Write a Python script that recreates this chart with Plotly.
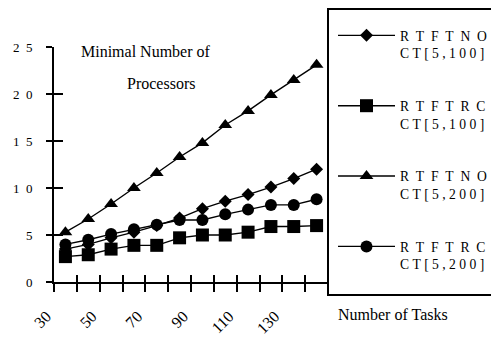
import plotly.graph_objects as go

# ---- data ----
tasks = [30, 40, 50, 60, 70, 80, 90, 100, 110, 120, 130, 140]
rtftno_100 = [3.5, 4.0, 4.7, 5.3, 6.0, 6.8, 7.8, 8.6, 9.3, 10.1, 11.0, 12.0]
rtftrc_100 = [2.7, 2.9, 3.5, 3.9, 3.9, 4.7, 5.0, 5.0, 5.3, 5.9, 5.9, 6.0]
rtftno_200 = [5.3, 6.7, 8.3, 10.0, 11.6, 13.3, 14.8, 16.7, 18.2, 19.9, 21.5, 23.1]
rtftrc_200 = [4.0, 4.5, 5.1, 5.6, 6.1, 6.6, 6.6, 7.2, 7.7, 8.2, 8.2, 8.8]

S1 = "\u2002"   # wide letter gap
S2 = "\u2005"   # narrower letter gap


def spaced(word, gap):
    return gap.join(list(word))


series_names = [
    spaced("RTFTNO", S1) + "<br>" + spaced("CT[5,100]", S2),
    spaced("RTFTRC", S1) + "<br>" + spaced("CT[5,100]", S2),
    spaced("RTFTNO", S1) + "<br>" + spaced("CT[5,200]", S2),
    spaced("RTFTRC", S1) + "<br>" + spaced("CT[5,200]", S2),
]
x_label_vals = [30, 50, 70, 90, 110, 130]
x_label_text = ["30", "50", "70", "90", "110", "130"]
x_bounds = [25, 35, 45, 55, 65, 75, 85, 95, 105, 115, 125, 135, 145]
y_tick_vals = [0, 5, 10, 15, 20, 25]
y_tick_text = ["0\u2003", "5\u2003", "1\u20020\u2003", "1\u20025\u2003",
               "2\u20020\u2003", "2\u20025\u2003"]

# ---- layout geometry (page pixels; page body has an 8px margin) ----
OFF = 8
W, H = 499 - OFF, 339 - OFF
PL, PR, PT, PB = 54 - OFF, 328 - OFF, 47 - OFF, 282 - OFF
FONT = "Liberation Serif"


def px_x(px):
    return (px - OFF - PL) / (PR - PL)


def px_y(py):
    return (PB - (py - OFF)) / (PB - PT)


fig = go.Figure()
styles = [
    dict(symbol="diamond", size=10),
    dict(symbol="square", size=13),
    dict(symbol="triangle-up", size=12),
    dict(symbol="circle", size=12),
]
for name, vals, st in zip(series_names, [rtftno_100, rtftrc_100, rtftno_200, rtftrc_200], styles):
    fig.add_trace(go.Scatter(
        x=tasks, y=vals, name=name, mode="lines+markers",
        line=dict(color="black", width=1.4),
        marker=dict(color="black", symbol=st["symbol"], size=st["size"]),
        legendgroup=name,
    ))

# helper (empty) traces so that the overlay axes are drawn
fig.add_trace(go.Scatter(x=[None], y=[None], xaxis="x2", yaxis="y2",
                         showlegend=False, hoverinfo="skip", mode="markers"))
fig.add_trace(go.Scatter(x=[None], y=[None], xaxis="x3", yaxis="y",
                         showlegend=False, hoverinfo="skip", mode="markers"))

rng = [25, 145]
fig.update_layout(
    width=W, height=H,
    margin=dict(l=PL, r=W - PR, t=PT, b=H - PB, autoexpand=False),
    paper_bgcolor="white", plot_bgcolor="white",
    font=dict(family=FONT, color="black"),
    xaxis=dict(range=rng, tickmode="array", tickvals=x_bounds, ticks="outside",
               ticklen=8, tickwidth=2, tickcolor="black", showticklabels=False,
               showline=True, linewidth=2, linecolor="black",
               showgrid=False, zeroline=False),
    xaxis2=dict(range=rng, overlaying="x", anchor="y2", side="bottom", tickmode="array",
                tickvals=x_bounds, ticks="inside", ticklen=7, tickwidth=2,
                tickcolor="black", showticklabels=False, showline=False,
                showgrid=False, zeroline=False),
    xaxis3=dict(range=rng, overlaying="x", anchor="y", side="bottom", tickmode="array",
                tickvals=x_label_vals, ticktext=x_label_text, ticks="",
                tickangle=-45, ticklabelshift=-19, ticklabelstandoff=21,
                tickfont=dict(family=FONT, size=16, color="black"),
                showline=False, showgrid=False, zeroline=False),
    yaxis=dict(range=[0, 25], tickmode="array", tickvals=y_tick_vals, ticktext=y_tick_text,
               ticks="outside", ticklen=6, tickwidth=2, tickcolor="black",
               ticklabelstandoff=-2,
               tickfont=dict(family=FONT, size=13, color="black"),
               showline=True, linewidth=2, linecolor="black",
               showgrid=False, zeroline=False),
    yaxis2=dict(range=[0, 25], overlaying="y", anchor="x2", side="left", tickmode="array",
                tickvals=y_tick_vals, ticks="inside", ticklen=9, tickwidth=2,
                tickcolor="black", showticklabels=False, showline=False,
                showgrid=False, zeroline=False),
    legend=dict(xref="container", yref="container", x=(333 - OFF) / W, y=1 - (20 - OFF) / H,
                xanchor="left", yanchor="top", valign="top",
                font=dict(family=FONT, size=13.6, color="black"),
                bgcolor="rgba(0,0,0,0)", borderwidth=0, tracegroupgap=32,
                itemwidth=57, maxheight=330),
    showlegend=True,
)

# legend frame
fig.add_shape(type="rect", xref="paper", yref="paper",
              x0=px_x(328), x1=px_x(520), y0=px_y(295), y1=px_y(9),
              line=dict(color="black", width=2), fillcolor="rgba(0,0,0,0)", layer="above")

# texts
fig.add_annotation(text="Minimal Number of", xref="paper", yref="paper",
                   x=px_x(146), y=px_y(51), showarrow=False,
                   xanchor="center", yanchor="middle",
                   font=dict(family=FONT, size=16, color="black"))
fig.add_annotation(text="Processors", xref="paper", yref="paper",
                   x=px_x(160.5), y=px_y(83), showarrow=False,
                   xanchor="center", yanchor="middle",
                   font=dict(family=FONT, size=16, color="black"))
fig.add_annotation(text="Number of Tasks", xref="paper", yref="paper",
                   x=px_x(393), y=px_y(314.5), showarrow=False,
                   xanchor="center", yanchor="middle",
                   font=dict(family=FONT, size=16, color="black"))

fig.write_html("out.html")
